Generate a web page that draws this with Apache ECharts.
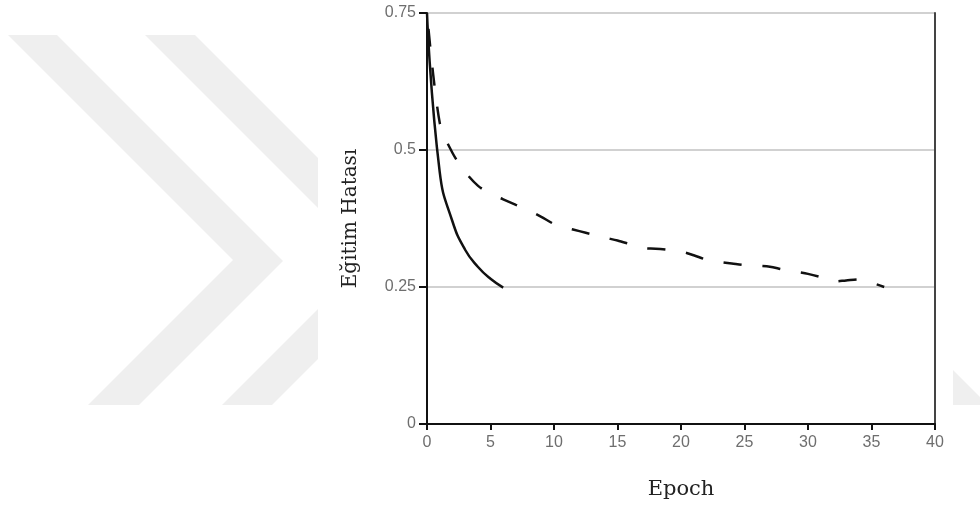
<!DOCTYPE html>
<html>
<head>
<meta charset="utf-8">
<script src="https://cdn.jsdelivr.net/npm/echarts@6/dist/echarts.min.js"></script>
<style>
  html, body { margin: 0; padding: 0; background: #fff; }
  #chart { width: 980px; height: 506px; }
</style>
</head>
<body>
<div id="chart"></div>
<script>
// egitim hatasi, iki egri (duz ve kesikli)
const epochsSolid = [0, 1, 2, 3, 4, 5, 6]
const errSolid = [0.75, 0.46, 0.37, 0.318, 0.287, 0.265, 0.249]

const epochsDashed = [0, 1, 2, 3, 4, 5, 6, 7, 8, 9, 10, 11, 12, 13, 14, 15, 16, 17, 18,
  19, 20, 21, 22, 23, 24, 25, 26, 27, 28, 29, 30, 31, 32, 33, 34, 35, 36]
const errDashed = [0.75, 0.55, 0.495, 0.46, 0.435, 0.42, 0.41, 0.4, 0.39, 0.378, 0.365,
  0.358, 0.352, 0.346, 0.34, 0.335, 0.328, 0.321, 0.32, 0.318, 0.315, 0.308, 0.3,
  0.296, 0.293, 0.29, 0.289, 0.287, 0.282, 0.278, 0.274, 0.268, 0.26, 0.262, 0.264,
  0.258, 0.25]

const yTicks = [0, 0.25, 0.5, 0.75]
const xTicks = [0, 5, 10, 15, 20, 25, 30, 35, 40]

const pair = (xs, ys) => xs.map((x, i) => [x, ys[i]])

let myChart = echarts.init(document.getElementById('chart'))

// arka plandaki soluk filigran (>> isareti)
const wm = '#efefef'
const watermark = [
  [[8, 35], [57, 35], [283, 261], [139, 405], [88, 405], [233, 260]],
  [[145, 35], [195, 35], [318, 158], [318, 208]],
  [[318, 309], [318, 359], [272, 405], [222, 405]],
  [[953, 370], [980, 397], [980, 405], [953, 405]]
].map(pts => ({
  type: 'polygon',
  z: -10,
  silent: true,
  shape: { points: pts },
  style: { fill: wm }
}))

let option = {
  backgroundColor: '#fff',
  animation: false,
  graphic: { elements: watermark },
  grid: { left: 427, right: 45, top: 13, bottom: 82 },
  xAxis: {
    type: 'value',
    min: xTicks[0],
    max: xTicks[xTicks.length - 1],
    interval: 5,
    name: 'Epoch',
    nameLocation: 'middle',
    nameGap: 55,
    nameTextStyle: { fontFamily: 'DejaVu Serif', fontSize: 21, color: '#222' },
    axisLine: { lineStyle: { color: '#111', width: 2 } },
    axisTick: { length: 6, lineStyle: { color: '#111', width: 2 } },
    axisLabel: { color: '#6e6e6e', fontSize: 16, fontFamily: 'Liberation Sans', margin: 11 },
    splitLine: { show: false }
  },
  yAxis: [
    {
      type: 'value',
      min: yTicks[0],
      max: yTicks[yTicks.length - 1],
      interval: 0.25,
      name: 'Eğitim Hatası',
      nameLocation: 'middle',
      nameGap: 66,
      nameTextStyle: { fontFamily: 'DejaVu Serif', fontSize: 20, color: '#222' },
      axisLine: { show: true, lineStyle: { color: '#111', width: 2 } },
      axisTick: { show: true, length: 8, lineStyle: { color: '#111', width: 2 } },
      axisLabel: { color: '#6e6e6e', fontSize: 16, fontFamily: 'Liberation Sans', margin: 11 },
      splitLine: { show: true, lineStyle: { color: '#c2c2c2', width: 1.5 } }
    },
    {
      type: 'value',
      position: 'right',
      min: yTicks[0],
      max: yTicks[yTicks.length - 1],
      interval: 0.25,
      axisLine: { show: true, lineStyle: { color: '#444', width: 2 } },
      axisTick: { show: false },
      axisLabel: { show: false },
      splitLine: { show: false }
    }
  ],
  series: [
    {
      name: 'kesikli',
      type: 'line',
      data: pair(epochsDashed, errDashed),
      showSymbol: false,
      smooth: 0.3,
      lineStyle: { color: '#111', width: 2.5, type: [18, 21], dashOffset: 23 }
    },
    {
      name: 'duz',
      type: 'line',
      data: pair(epochsSolid, errSolid),
      showSymbol: false,
      smooth: 0.5,
      lineStyle: { color: '#111', width: 2.5 }
    }
  ]
}
myChart.setOption(option)
window.addEventListener('resize', () => myChart.resize())
</script>
</body>
</html>
